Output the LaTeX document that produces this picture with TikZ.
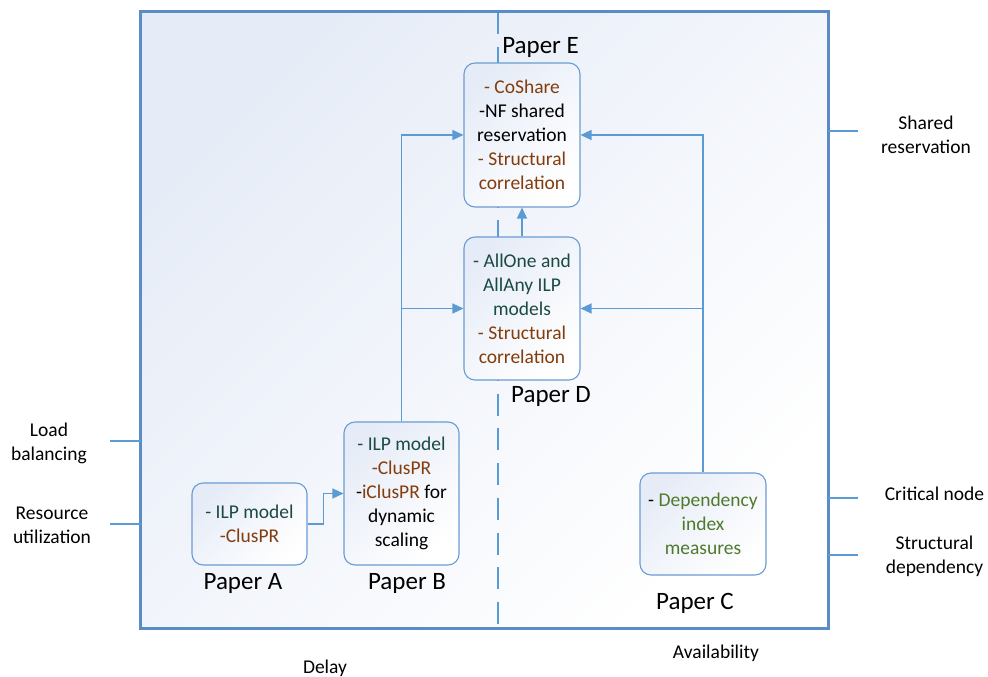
\documentclass[tikz,border=0pt]{standalone}
\usepackage{fontspec}
\setmainfont{Carlito}
\usetikzlibrary{arrows.meta}
\definecolor{frameblue}{HTML}{5A8DC8}
\definecolor{lineblue}{HTML}{5B9BD5}
\definecolor{boxblue}{HTML}{6A9CD4}
\definecolor{shadeblue}{HTML}{E6ECF7}
\definecolor{txtbrown}{HTML}{843C0C}
\definecolor{txtteal}{HTML}{1A4A45}
\definecolor{txtgreen}{HTML}{4F7A2C}
\begin{document}
\begin{tikzpicture}[x=1pt,y=-1pt,
  paperbox/.style={draw=boxblue, line width=1.1pt, rounded corners=11pt,
    top color=shadeblue, bottom color=white, shading angle=45,
    align=center, inner sep=0pt, font=\fontsize{19.5}{24}\selectfont},
  conn/.style={draw=lineblue, line width=1.4pt, -{Triangle[length=11pt,width=10pt]}},
  plainline/.style={draw=lineblue, line width=1.4pt},
  plabel/.style={font=\fontsize{25}{30}\selectfont, inner sep=0pt},
  slabel/.style={font=\fontsize{19.5}{24}\selectfont, align=center, inner sep=0pt}]
\useasboundingbox (0,0) rectangle (988,677);

% frame
\node (frame) [top color=shadeblue, bottom color=white, shading angle=45,
  minimum width=687pt, minimum height=616pt, inner sep=0pt] at (484.5,320) {};
\coordinate (dtop) at (498,12);
\coordinate (dbot) at (498,628);
\draw[lineblue, line width=1.4pt, dash pattern=on 22pt off 12.7pt] (dtop) -- (dbot);
\draw[frameblue, line width=3pt] (frame.north west) rectangle (frame.south east);

% boxes
\node[paperbox, minimum width=116pt, minimum height=144pt] (E) at (522,135)
  {{\color{txtbrown}- CoShare}\\-NF shared\\reservation\\{\color{txtbrown}- Structural}\\{\color{txtbrown}correlation}};
\node[paperbox, minimum width=116pt, minimum height=143pt] (D) at (522,308.5)
  {{\color{txtteal}- AllOne and}\\{\color{txtteal}AllAny ILP}\\{\color{txtteal}models}\\{\color{txtbrown}- Structural}\\{\color{txtbrown}correlation}};
\node[paperbox, minimum width=115pt, minimum height=82pt] (A) at (249.5,524)
  {{\color{txtteal}- ILP model}\\{\color{txtbrown}-ClusPR}};
\node[paperbox, minimum width=115pt, minimum height=143pt] (B) at (401.5,493.5)
  {{\color{txtteal}- ILP model}\\{\color{txtbrown}-ClusPR}\\-{\color{txtbrown}iClusPR} for\\dynamic\\scaling};
\node[paperbox, minimum width=126pt, minimum height=102pt] (C) at (703,524)
  {- {\color{txtgreen}Dependency}\\{\color{txtgreen}index}\\{\color{txtgreen}measures}};

% paper labels
\node[plabel] (pE) at (540.5,47) {Paper E};
\node[plabel] (pD) at (551,396) {Paper D};
\node[plabel] (pA) at (243,583) {Paper A};
\node[plabel] (pB) at (407,583) {Paper B};
\node[plabel] (pC) at (695,603) {Paper C};

% connectors
\draw[conn] (A.east) -- ++(16,0) |- (B.west);
\draw[conn] (B.north) |- (E.west);
\draw[conn] (B.north |- D.west) -- (D.west);
\draw[conn] (C.north) |- (E.east);
\draw[conn] (C.north |- D.east) -- (D.east);
\draw[conn] (D.north) -- (E.south);

% side labels
\node[slabel] (lb) at (49,443) {Load\\balancing};
\node[slabel] (ru) at (52,525) {Resource\\utilization};
\node[slabel] (sr) at (926,135) {Shared\\reservation};
\node[slabel] (cn) at (934.5,494) {Critical node};
\node[slabel] (sd) at (934.5,556) {Structural\\dependency};
\node[slabel] (dl) at (325,668) {Delay};
\node[slabel] (av) at (716,653) {Availability};

\coordinate (lbend) at (110,441);
\coordinate (ruend) at (110,524);
\coordinate (srend) at (858,131);
\coordinate (cnend) at (858,498);
\coordinate (sdend) at (858,555);
\draw[plainline] (lbend) -- (lbend -| frame.west);
\draw[plainline] (ruend) -- (ruend -| frame.west);
\draw[plainline] (srend) -- (srend -| frame.east);
\draw[plainline] (cnend) -- (cnend -| frame.east);
\draw[plainline] (sdend) -- (sdend -| frame.east);
\end{tikzpicture}
\end{document}
